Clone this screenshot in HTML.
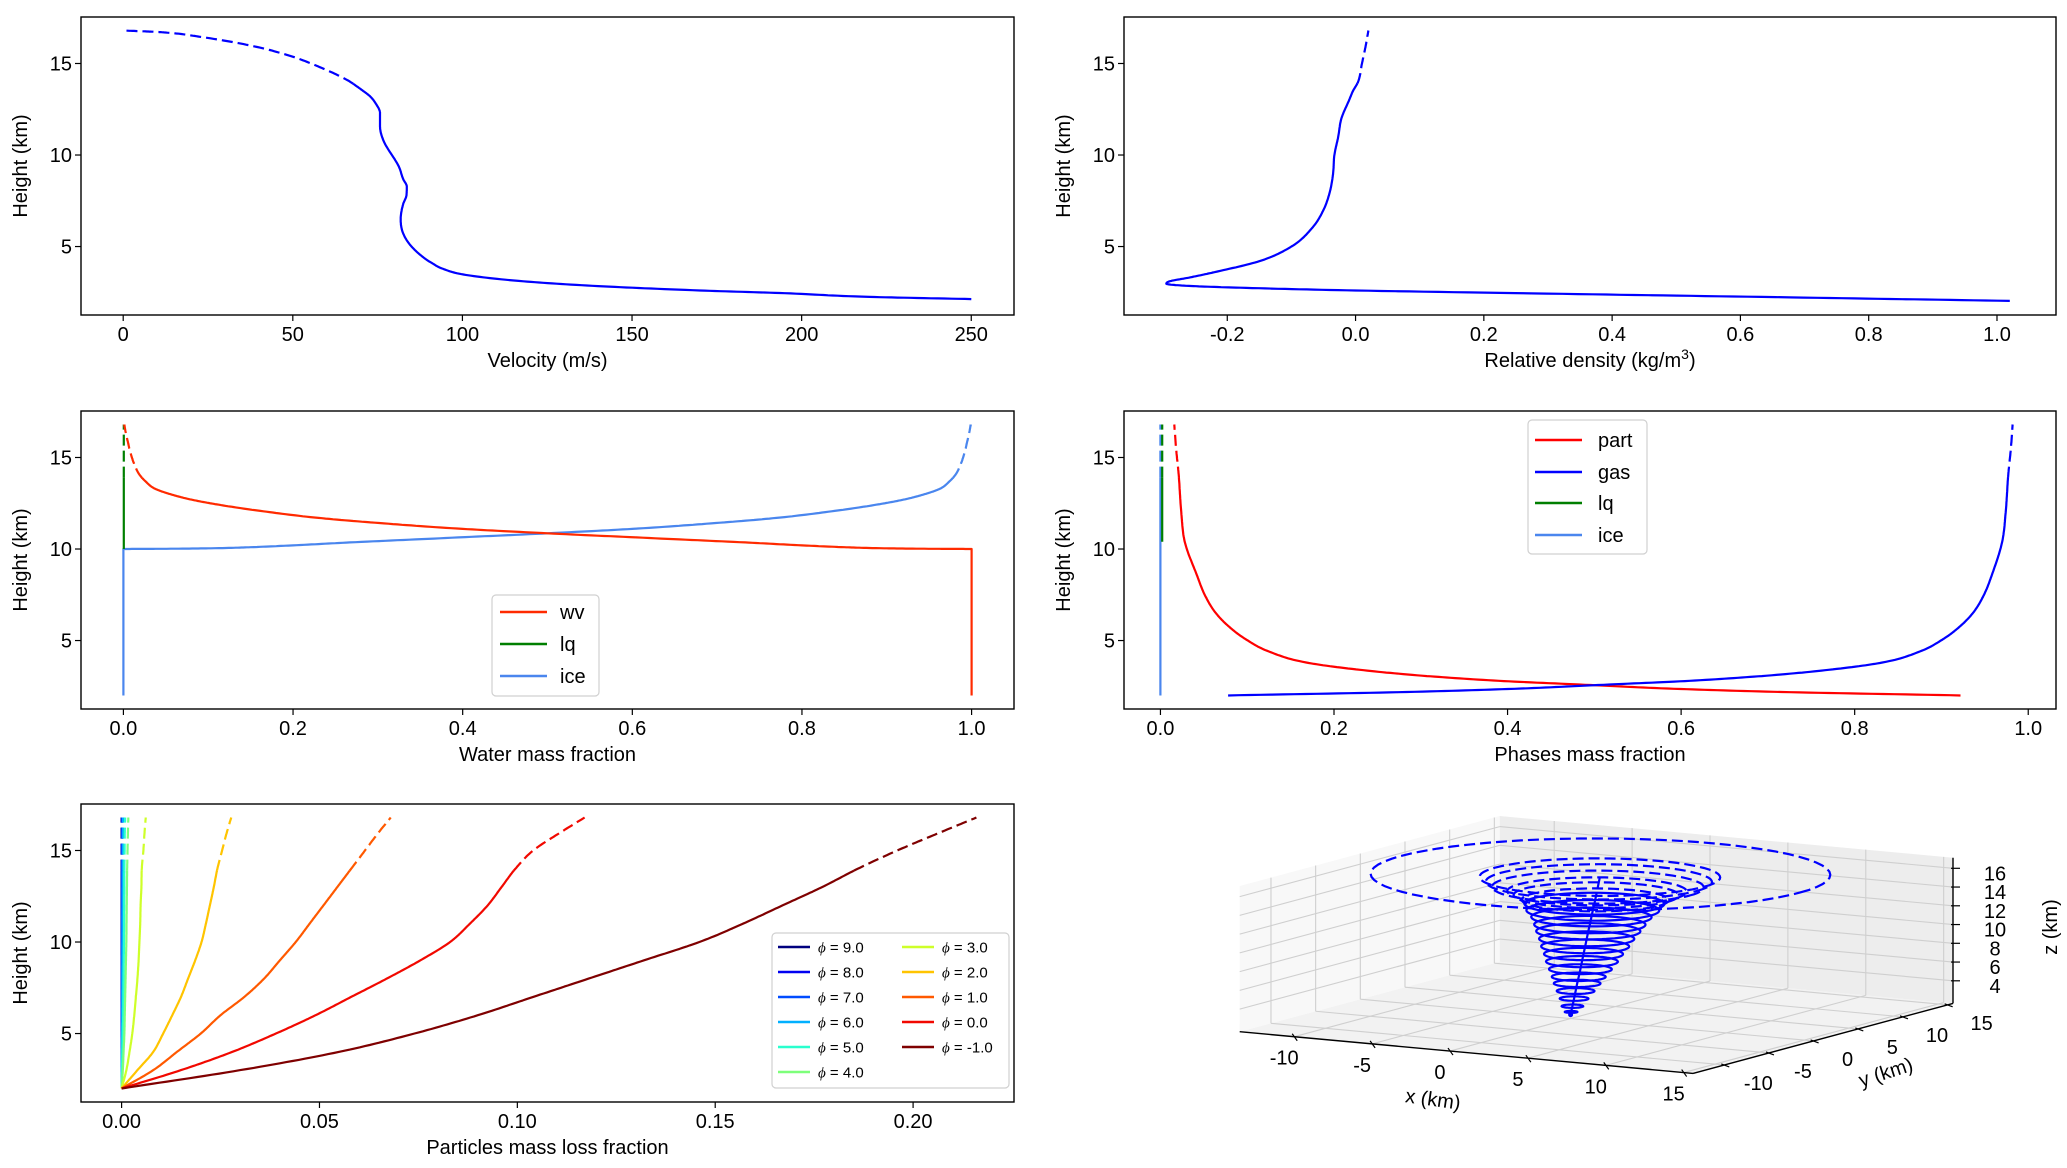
<!DOCTYPE html>
<html><head><meta charset="utf-8"><style>
html,body{margin:0;padding:0;background:#fff}
svg{display:block}
text{font-family:"Liberation Sans",sans-serif;fill:#000}
.tk{font-family:"Liberation Sans Narrow","Liberation Sans",sans-serif;font-size:20px}
.lb{font-size:20px}
</style></head><body>
<svg id="fig" xmlns="http://www.w3.org/2000/svg" width="2067" height="1168" viewBox="0 0 2067 1168"></svg>
<script>
// ---------- data ----------
const velH=[2.13,2.25,2.45,2.6,2.84,3.1,3.45,3.8,4.1,4.27,5,5.73,6.5,7.3,7.8,8.27,8.7,9.35,10.8,11.6,12.3,12.8,13.2,13.6,14.1,14.8,15.47,16,16.46,16.7,16.75,16.8];
const velV=[250,220,195,170,140,118,101,94,91,89.5,85,82.5,81.8,82.5,83.5,83.6,82.5,81.3,76.7,75.7,75.7,74.5,72.8,70,66,58,48.3,37,22.6,12,7,0];
const denH=[2.03,2.2,2.39,2.6,2.75,2.85,2.97,3.1,3.3,3.6,4.2,5,6,7,8,9,10,11,12,13,13.5,14,15,16,16.8];
const denV=[1.02,0.72,0.37,0,-0.18,-0.26,-0.295,-0.29,-0.26,-0.22,-0.15,-0.1,-0.068,-0.05,-0.04,-0.035,-0.033,-0.027,-0.022,-0.01,-0.004,0.004,0.01,0.016,0.02];
const wH=[2,10,10.01,10.04,10.1,10.2,10.36,10.6,10.86,11.1,11.4,11.7,12.06,12.4,12.7,13.0,13.3,13.7,14.06,14.5,15,15.5,15.9,16.3,16.7,16.8];
const wvV=[1,1,0.96,0.897,0.85,0.8,0.733,0.62,0.5,0.4,0.307,0.23,0.165,0.115,0.08,0.055,0.037,0.026,0.019,0.014,0.01,0.007,0.005,0.003,0.0014,0.001];
const iceV=[0,0,0.04,0.103,0.15,0.2,0.267,0.38,0.5,0.6,0.693,0.77,0.835,0.885,0.92,0.945,0.963,0.974,0.981,0.986,0.99,0.993,0.995,0.997,0.9986,0.999];
const lqH=[10,12,14,16.8];
const lqV=[0.0005,0.0005,0.0005,0.0005];
const pH=[2,2.18,2.35,2.57,2.8,3.06,3.4,3.8,4.4,5.08,5.8,6.55,7.5,8.57,10.4,12,14.07,15.5,16.8];
const partV=[0.922,0.726,0.6,0.496,0.39,0.307,0.23,0.168,0.125,0.098,0.078,0.063,0.051,0.042,0.028,0.024,0.021,0.018,0.016];
const gasV=[0.078,0.274,0.4,0.504,0.61,0.693,0.77,0.832,0.875,0.902,0.922,0.937,0.949,0.958,0.970,0.974,0.977,0.980,0.982];
const pLqH=[10.4,12,14,16.8];
const pLqV=[0.002,0.002,0.002,0.002];
const pIceH=[2,10.4,16.8];
const pIceV=[0,0,0];
const lossH=[2,3,4,5,6,7,8,9,10,11,12,13,14,15,16,16.8];
const phis=[9,8,7,6,5,4,3,2,1,0,-1];
const phiColors=['#00007f','#0000f1','#004cff','#00b0ff','#29ffce','#7dff7a','#ceff29','#ffc400','#ff5900','#f10800','#7f0000'];
const loss=[
 [0,0,0,0,0,0,0,0,0,0,0,0,0,0,0,0],
 [0,0,0.00002,0.00003,0.00004,0.000045,0.00005,0.000055,0.00006,0.000065,0.00007,0.000075,0.00008,0.000085,0.00009,0.0001],
 [0,0.00002,0.00004,0.00006,0.00008,0.00009,0.0001,0.00011,0.00012,0.00013,0.00014,0.00015,0.00016,0.00017,0.00018,0.0002],
 [0,0.00004,0.00008,0.00012,0.00015,0.00018,0.0002,0.00022,0.00024,0.00026,0.00027,0.00029,0.0003,0.00032,0.00034,0.00036],
 [0,0.0001,0.0002,0.0003,0.0004,0.00045,0.0005,0.00055,0.0006,0.00063,0.00065,0.00068,0.0007,0.00075,0.0008,0.0009],
 [0,0.0003,0.0005,0.0007,0.0008,0.0009,0.001,0.0011,0.0012,0.00125,0.0013,0.00135,0.0014,0.0015,0.0016,0.0017],
 [0,0.0012,0.002,0.0027,0.0032,0.0036,0.004,0.0043,0.0045,0.0047,0.0048,0.005,0.0051,0.0055,0.0058,0.0061],
 [0,0.004,0.008,0.0105,0.0128,0.015,0.0168,0.0186,0.0202,0.0213,0.0223,0.0233,0.0242,0.0254,0.0266,0.0277],
 [0,0.008,0.014,0.02,0.025,0.031,0.036,0.040,0.044,0.0475,0.051,0.0545,0.058,0.0615,0.065,0.068],
 [0,0.015,0.028,0.039,0.049,0.058,0.067,0.0755,0.083,0.088,0.0925,0.096,0.0995,0.104,0.111,0.117],
 [0,0.03,0.055,0.074,0.09,0.104,0.118,0.132,0.146,0.157,0.167,0.177,0.186,0.196,0.207,0.216]];
const ringH=[2.3,2.9,3.7,4.5,5.3,6.0,6.8,7.6,8.4,9.2,10.0,10.8,11.5,12.3,13.0,13.7,14.1,14.6,15.0,15.45,16.0,16.5,16.8];
const ringR=[0.35,0.6,0.8,1.05,1.3,1.5,1.75,2.0,2.2,2.45,2.65,2.9,3.1,3.35,3.7,3.9,4.1,4.6,5.0,5.9,6.3,6.7,12.8];
const driftX=[0.02,0.07,0.13,0.19,0.25,0.31,0.37,0.43,0.49,0.55,0.61,0.67,0.73,0.79,0.84,0.9,0.93,0.97,1.0,1.03,1.07,1.11,1.13];
const driftY=[0.02,0.08,0.16,0.23,0.3,0.37,0.45,0.52,0.59,0.67,0.74,0.81,0.88,0.95,1.02,1.09,1.13,1.17,1.21,1.25,1.3,1.34,1.37];
const xTicks1=[0,50,100,150,200,250];
const xTicks2=[-0.2,0,0.2,0.4,0.6,0.8,1.0];
const xTicks34=[0,0.2,0.4,0.6,0.8,1.0];
const xTicks5=[0,0.05,0.1,0.15,0.2];
const yTicks=[5,10,15];
const ticks3d=[-10,-5,0,5,10,15];
const zTicks3d=[4,6,8,10,12,14,16];
// ---------- helpers ----------
const NS='http://www.w3.org/2000/svg';
const svg=document.getElementById('fig');
function el(tag,attrs,parent){const e=document.createElementNS(NS,tag);for(const k in attrs)e.setAttribute(k,attrs[k]);(parent||svg).appendChild(e);return e;}
function named(e,n,i){
 
 
 return e;}
const DASH='11,5';
const THR=13.9;
function resample(hs,vs){const n=hs.length;if(n<3)return hs.map((h,i)=>[vs[i],h]);
 const d=[],m=new Array(n);for(let i=0;i<n-1;i++)d.push((vs[i+1]-vs[i])/(hs[i+1]-hs[i]));
 m[0]=d[0];m[n-1]=d[n-2];for(let i=1;i<n-1;i++)m[i]=(d[i-1]*d[i]<=0)?0:(d[i-1]+d[i])/2;
 for(let i=0;i<n-1;i++){if(d[i]===0){m[i]=0;m[i+1]=0;continue;}const a=m[i]/d[i],b=m[i+1]/d[i],s=a*a+b*b;if(s>9){const t=3/Math.sqrt(s);m[i]=t*a*d[i];m[i+1]=t*b*d[i];}}
 const out=[];for(let i=0;i<n-1;i++){const h0=hs[i],dh=hs[i+1]-h0,N=16;for(let k=0;k<N;k++){const t=k/N,t2=t*t,t3=t2*t;
  const v=(2*t3-3*t2+1)*vs[i]+(t3-2*t2+t)*dh*m[i]+(-2*t3+3*t2)*vs[i+1]+(t3-t2)*dh*m[i+1];out.push([v,h0+t*dh]);}}
 out.push([vs[n-1],hs[n-1]]);return out;}
function split(P){const s=[],d=[];for(let i=0;i<P.length;i++){const q=P[i];if(q[1]<=THR)s.push(q);else{if(d.length===0){if(i>0&&P[i-1][1]<THR){const a=P[i-1],t=(THR-a[1])/(q[1]-a[1]);const p=[a[0]+t*(q[0]-a[0]),THR];s.push(p);d.push(p);}}d.push(q);}}return [s,d];}
const YL=[1.26,17.54];
function panel(p){
 const g=named(el('g',{}),p.name,false);
 const sx=v=>p.L+(v-p.xl[0])/(p.xl[1]-p.xl[0])*(p.R-p.L);
 const sy=v=>p.B-(v-YL[0])/(YL[1]-YL[0])*(p.B-p.T);
 p.sx=sx;p.sy=sy;p.g=g;
 named(el('rect',{x:p.L,y:p.T,width:p.R-p.L,height:p.B-p.T,fill:'#fff',stroke:'none'},g),'plot-area',false);
 for(const t of p.xt){const x=sx(t);el('line',{x1:x,y1:p.B,x2:x,y2:p.B+6,stroke:'#000','stroke-width':1.2},g);
  const tx=named(el('text',{x:x,y:p.B+26,'text-anchor':'middle',class:'tk'},g),'x-tick-label',false);tx.textContent=p.fmt(t);}
 for(const t of yTicks){const y=sy(t);el('line',{x1:p.L-6,y1:y,x2:p.L,y2:y,stroke:'#000','stroke-width':1.2},g);
  const ty=named(el('text',{x:p.L-9,y:y+7,'text-anchor':'end',class:'tk'},g),'y-tick-label',false);ty.textContent=t;}
 const xl=named(el('text',{x:(p.L+p.R)/2,y:p.B+52,'text-anchor':'middle',class:'lb'},g),'x-axis-title',false);
 xl.innerHTML=p.xlabel;
 const yc=(p.T+p.B)/2,yx=p.L-54;
 const yl=named(el('text',{x:yx,y:yc,'text-anchor':'middle',class:'lb',transform:`rotate(-90 ${yx} ${yc})`},g),'y-axis-title',false);
 yl.textContent='Height (km)';
 return p;}
function frame(p){named(el('rect',{x:p.L,y:p.T,width:p.R-p.L,height:p.B-p.T,fill:'none',stroke:'#000','stroke-width':1.4},p.g),'axes-frame',false);}
function series(p,hs,vs,color,name){
 const [s,d]=split(resample(hs,vs));
 const pts=a=>a.map(q=>p.sx(q[0]).toFixed(1)+','+p.sy(q[1]).toFixed(1)).join(' ');
 if(s.length>1){const l=el('polyline',{points:pts(s),fill:'none',stroke:color,'stroke-width':2.2,'stroke-linejoin':'round'},p.g);
  
  }
 if(d.length>1){const l=el('polyline',{points:pts(d),fill:'none',stroke:color,'stroke-width':2.2,'stroke-dasharray':DASH},p.g);
  
  }
}
function legend(g,x,y,w,h,items,fs){
 const lg=named(el('g',{},g),'legend',false);
 el('rect',{x:x,y:y,width:w,height:h,rx:4,fill:'#fff','fill-opacity':0.85,stroke:'#d0d0d0','stroke-width':1.2},lg);
 for(const it of items){const e=named(el('g',{},lg),'legend-entry',false);
  el('line',{x1:it.x,y1:it.y,x2:it.x+it.len,y2:it.y,stroke:it.c,'stroke-width':2.4},e);
  const t=el('text',{x:it.x+it.len+it.gap,y:it.y+fs*0.36,'font-size':fs},e);t.innerHTML=it.t;}
}
const f1=v=>v.toFixed(1), f0=v=>String(v), f2=v=>v.toFixed(2);
// ---------- panels ----------
const P1=panel({name:'velocity-panel',L:81,R:1014,T:17,B:315,xl:[-12.44,262.6],xt:xTicks1,fmt:f0,xlabel:'Velocity (m/s)'});
series(P1,velH,velV,'#0000ff','velocity');frame(P1);
const P2=panel({name:'density-panel',L:1124,R:2056,T:17,B:315,xl:[-0.361,1.092],xt:xTicks2,fmt:f1,xlabel:'Relative density (kg/m<tspan dy="-8" font-size="14">3</tspan><tspan dy="8">)</tspan>'});
series(P2,denH,denV,'#0000ff','density');frame(P2);
const P3=panel({name:'water-panel',L:81,R:1014,T:411,B:709,xl:[-0.05,1.05],xt:xTicks34,fmt:f1,xlabel:'Water mass fraction'});
series(P3,wH,iceV,'#4a86ee','ice');series(P3,lqH,lqV,'#007f00','lq');series(P3,wH,wvV,'#ff2a00','wv');frame(P3);
legend(P3.g,492,595,107,101,[{x:500,y:612,len:47,gap:13,c:'#ff2a00',t:'wv'},{x:500,y:644,len:47,gap:13,c:'#007f00',t:'lq'},{x:500,y:676,len:47,gap:13,c:'#4a86ee',t:'ice'}],20);
const P4=panel({name:'phases-panel',L:1124,R:2056,T:411,B:709,xl:[-0.042,1.032],xt:xTicks34,fmt:f1,xlabel:'Phases mass fraction'});
series(P4,pIceH,pIceV,'#4a86ee','phase-ice');series(P4,pLqH,pLqV,'#007f00','phase-lq');series(P4,pH,partV,'#ff0000','part');series(P4,pH,gasV,'#0000ff','gas');frame(P4);
legend(P4.g,1528,420,119,134,[{x:1535,y:440,len:47,gap:16,c:'#ff0000',t:'part'},{x:1535,y:472,len:47,gap:16,c:'#0000ff',t:'gas'},{x:1535,y:503,len:47,gap:16,c:'#007f00',t:'lq'},{x:1535,y:535,len:47,gap:16,c:'#4a86ee',t:'ice'}],20);
const P5=panel({name:'mass-loss-panel',L:81,R:1014,T:804,B:1102,xl:[-0.01026,0.2255],xt:xTicks5,fmt:f2,xlabel:'Particles mass loss fraction'});
for(let k=0;k<phis.length;k++)series(P5,lossH,loss[k],phiColors[k],'phi-'+phis[k]);
frame(P5);
{const items=[];for(let k=0;k<phis.length;k++){const col=k<6?0:1,row=k<6?k:k-6;
 items.push({x:col?902:778,y:947+row*25,len:32,gap:8,c:phiColors[k],t:'<tspan font-style="italic" font-family="Liberation Serif">ϕ</tspan> = '+phis[k].toFixed(1)});}
 legend(P5.g,772,933,237,155,items,15);}
// ---------- 3D ----------
const X3=[-13.5,15.6],Y3=[-13.5,15.6],Z3=[1.59,17.13];
const O3=[1239.7,1031.7],EX=[453.3,41.7],EY=[260,-70],EZ=[0,-145.7];
function proj(x,y,z){const fx=(x-X3[0])/(X3[1]-X3[0]),fy=(y-Y3[0])/(Y3[1]-Y3[0]),fz=(z-Z3[0])/(Z3[1]-Z3[0]);
 return [O3[0]+fx*EX[0]+fy*EY[0]+fz*EZ[0],O3[1]+fx*EX[1]+fy*EY[1]+fz*EZ[1]];}
const g3=named(el('g',{}),'plume-3d-panel',false);
function poly(pts,attrs,name){const e=el('polygon',Object.assign({points:pts.map(p=>p[0].toFixed(1)+','+p[1].toFixed(1)).join(' ')},attrs),g3);
 return e;}
function seg(a,b,c,w,name){const e=el('line',{x1:a[0],y1:a[1],x2:b[0],y2:b[1],stroke:c,'stroke-width':w},g3);if(name){
 }return e;}
const [x0,x1]=X3,[y0,y1]=Y3,[z0,z1]=Z3;
poly([proj(x0,y0,z0),proj(x1,y0,z0),proj(x1,y1,z0),proj(x0,y1,z0)],{fill:'#f2f2f2'},'floor-pane');
poly([proj(x0,y0,z0),proj(x0,y1,z0),proj(x0,y1,z1),proj(x0,y0,z1)],{fill:'#f8f8f8'},'left-pane');
poly([proj(x0,y1,z0),proj(x1,y1,z0),proj(x1,y1,z1),proj(x0,y1,z1)],{fill:'#ededed'},'back-pane');
const GC='#cfcfcf';
for(const t of ticks3d){seg(proj(t,y0,z0),proj(t,y1,z0),GC,1.1);seg(proj(t,y1,z0),proj(t,y1,z1),GC,1.1);
 seg(proj(x0,t,z0),proj(x1,t,z0),GC,1.1);seg(proj(x0,t,z0),proj(x0,t,z1),GC,1.1);}
for(const t of zTicks3d){seg(proj(x0,y0,t),proj(x0,y1,t),GC,1.1);seg(proj(x0,y1,t),proj(x1,y1,t),GC,1.1);}
seg(proj(x0,y0,z0),proj(x1,y0,z0),'#000',1.4,'x-axis-line');
seg(proj(x1,y0,z0),proj(x1,y1,z0),'#000',1.4,'y-axis-line');
seg(proj(x1,y1,z0),proj(x1,y1,z1),'#000',1.4,'z-axis-line');
for(const t of ticks3d){const p=proj(t,y0,z0);seg([p[0]-2,p[1]-3],[p[0]+3,p[1]+4],'#000',1.2);
 const tx=named(el('text',{x:p[0]-10,y:p[1]+28,'text-anchor':'middle',class:'tk','font-size':21},g3),'x-tick-label',false);tx.textContent=t;
 const q=proj(x1,t,z0);seg([q[0]-3,q[1]-1],[q[0]+5,q[1]+2],'#000',1.2);
 const ty=named(el('text',{x:q[0]+34,y:q[1]+25,'text-anchor':'middle',class:'tk','font-size':21},g3),'y-tick-label',false);ty.textContent=t;}
for(const t of zTicks3d){const p=proj(x1,y1,t);seg([p[0]-2,p[1]],[p[0]+7,p[1]],'#000',1.2);
 const tz=named(el('text',{x:p[0]+42,y:p[1]+12,'text-anchor':'middle',class:'tk','font-size':21},g3),'z-tick-label',false);tz.textContent=t;}
{const t=named(el('text',{x:1433,y:1106,'text-anchor':'middle',class:'lb',transform:'rotate(8 1433 1100)'},g3),'x-axis-title',false);t.textContent='x (km)';
 const u=named(el('text',{x:1886,y:1079,'text-anchor':'middle',class:'lb',transform:'rotate(-18 1886 1073)'},g3),'y-axis-title',false);u.textContent='y (km)';
 const v=named(el('text',{x:2050,y:934,'text-anchor':'middle',class:'lb',transform:'rotate(-90 2050 927)'},g3),'z-axis-title',false);v.textContent='z (km)';}
// rings
for(let i=0;i<ringH.length;i++){const pts=[];for(let a=0;a<=72;a++){const th=a/72*2*Math.PI;pts.push(proj(driftX[i]+ringR[i]*Math.cos(th),driftY[i]+ringR[i]*Math.sin(th),ringH[i]));}
 const e=el('polyline',{points:pts.map(p=>p[0].toFixed(1)+','+p[1].toFixed(1)).join(' '),fill:'none',stroke:'#0000ff','stroke-width':2.2},g3);
 if(ringH[i]>THR)e.setAttribute('stroke-dasharray',DASH);
 
 }
{const s=[proj(0,0,2)],d=[];for(let i=0;i<ringH.length;i++){const p=proj(driftX[i],driftY[i],ringH[i]);if(ringH[i]<=THR)s.push(p);else{if(!d.length)d.push(s[s.length-1]);d.push(p);}}
 const a=el('polyline',{points:s.map(p=>p.join(',')).join(' '),fill:'none',stroke:'#0000ff','stroke-width':2.2},g3);
 
 
 const b=el('polyline',{points:d.map(p=>p.join(',')).join(' '),fill:'none',stroke:'#0000ff','stroke-width':2.2,'stroke-dasharray':DASH},g3);
 
 
 const c=proj(0,0,2);const dot=el('circle',{cx:c[0],cy:c[1],r:2.5,fill:'#0000ff'},g3);
 
 }
</script>
</body></html>
